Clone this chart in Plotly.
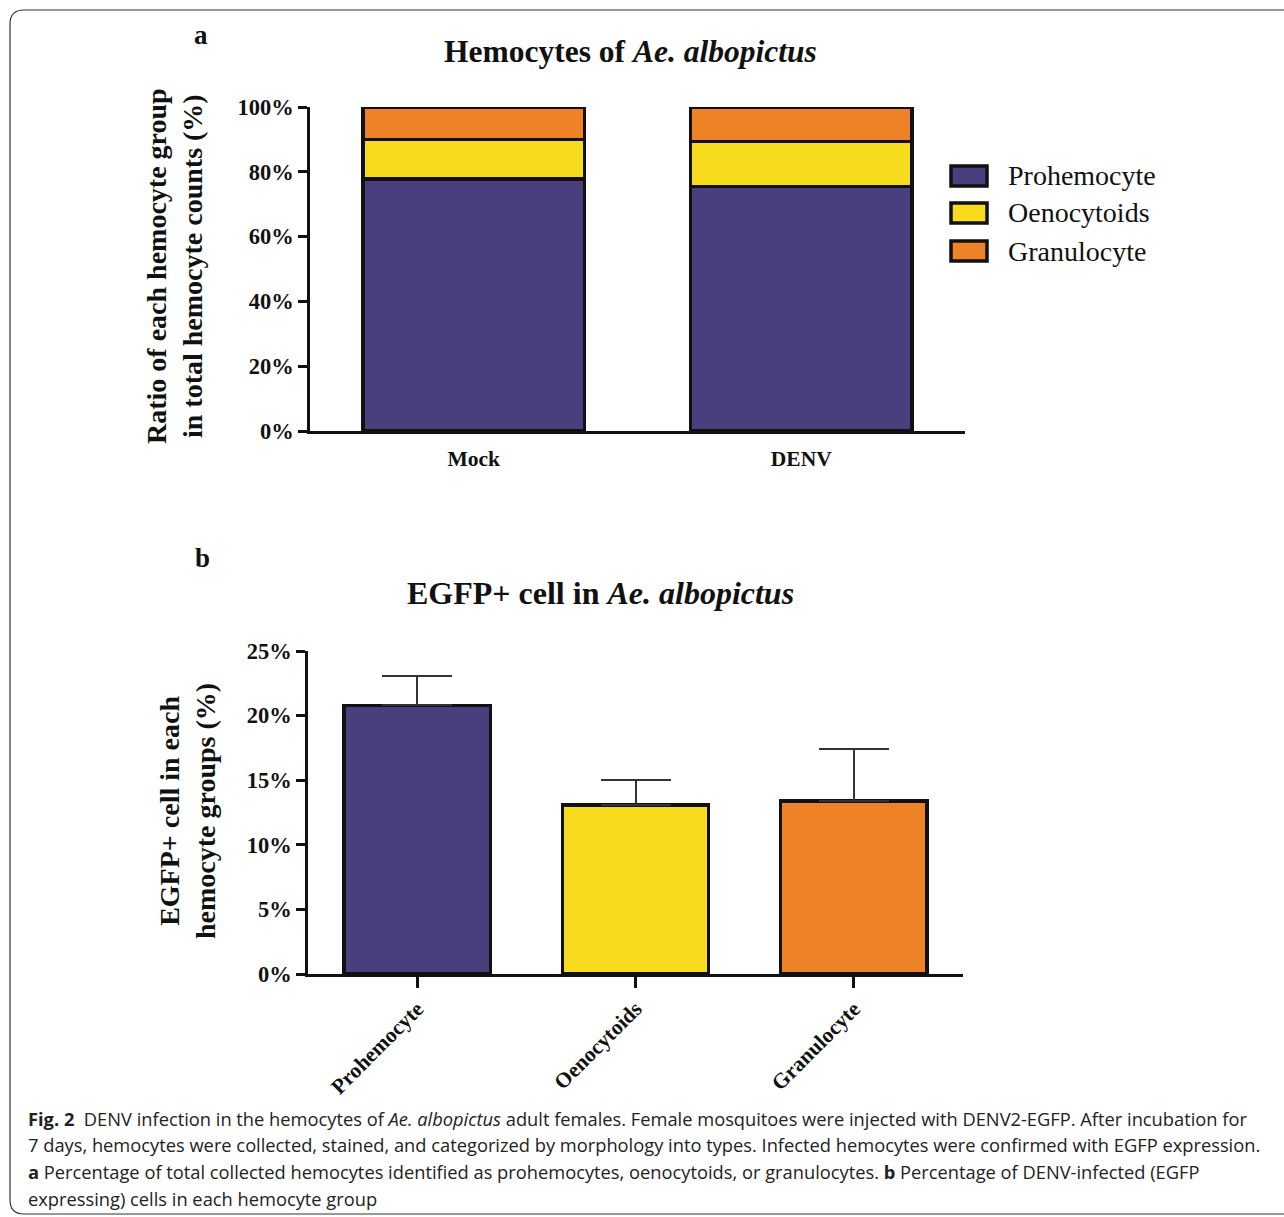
import plotly.graph_objects as go

# ---------------- data ----------------
groups_a = ["Mock", "DENV"]
series_a = ["Prohemocyte", "Oenocytoids", "Granulocyte"]
prohemocyte_a = [77.8, 75.4]
oenocytoids_a = [12.2, 13.9]
granulocyte_a = [10.0, 10.7]
values_a = [prohemocyte_a, oenocytoids_a, granulocyte_a]

cells_b = ["Prohemocyte", "Oenocytoids", "Granulocyte"]
egfp_b = [20.8, 13.1, 13.4]
err_b = [2.3, 1.9, 4.0]

ticks_a = [0, 20, 40, 60, 80, 100]
ticklabels_a = ["0%", "20%", "40%", "60%", "80%", "100%"]
ticks_b = [0, 5, 10, 15, 20, 25]
ticklabels_b = ["0%", "5%", "10%", "15%", "20%", "25%"]

colors = ["#4a3e7d", "#f7dc1e", "#ed8226"]

W, H = 1284, 1217
SERIF = "Liberation Serif"
SANS = "Open Sans"
INK = "#111111"


def px(x):
    return x / W


def py(y):
    return 1 - y / H


fig = go.Figure()

# ---- panel a: stacked bars ----
for name, vals, col in zip(series_a, values_a, colors):
    fig.add_trace(go.Bar(
        x=groups_a, y=vals, name=name, width=0.675,
        marker=dict(color=col, line=dict(color=INK, width=3.5)),
        xaxis="x", yaxis="y", showlegend=False,
    ))

# ---- panel b: bars with error bars ----
fig.add_trace(go.Bar(
    x=cells_b, y=egfp_b, width=0.67,
    marker=dict(color=colors, line=dict(color=INK, width=3.5)),
    error_y=dict(type="data", array=err_b, arrayminus=[0] * len(err_b),
                 symmetric=False, color="#333333", thickness=2, width=35),
    xaxis="x2", yaxis="y2", showlegend=False,
))

axis_common = dict(showline=True, linecolor=INK, linewidth=2.5,
                   showgrid=False, zeroline=False, mirror=False, automargin=False)
tickfont = dict(family=SERIF, size=22.5, color=INK, weight="bold")
xtickfont = dict(family=SERIF, size=21.5, color=INK, weight="bold")

fig.update_layout(
    width=W, height=H,
    margin=dict(l=0, r=0, t=0, b=0, pad=0),
    paper_bgcolor="white", plot_bgcolor="white",
    barmode="stack",
    xaxis=dict(domain=[px(310), px(965)], anchor="y", range=[-0.5, 1.5],
               ticks="", ticklabelstandoff=6, tickfont=xtickfont, **axis_common),
    yaxis=dict(domain=[py(431), py(107)], anchor="x", range=[0, 100],
               tickmode="array", tickvals=ticks_a, ticktext=ticklabels_a,
               ticks="outside", ticklen=9, tickwidth=2.5, tickcolor=INK,
               tickfont=tickfont, **axis_common),
    xaxis2=dict(domain=[px(308), px(963)], anchor="y2", range=[-0.5, 2.5],
                ticks="outside", ticklen=11, tickwidth=2.5, tickcolor=INK,
                tickangle=-45, tickfont=xtickfont, **axis_common),
    yaxis2=dict(domain=[py(974), py(651)], anchor="x2", range=[0, 25],
                tickmode="array", tickvals=ticks_b, ticktext=ticklabels_b,
                ticks="outside", ticklen=9, tickwidth=2.5, tickcolor=INK,
                tickfont=tickfont, **axis_common),
)


def note(text, x, y, size, family=SERIF, angle=0, xanchor="center", color=INK):
    return dict(text=text, x=px(x), y=py(y), xref="paper", yref="paper",
                xanchor=xanchor, yanchor="middle", showarrow=False,
                textangle=angle, font=dict(family=family, size=size, color=color))


ann = []
ann.append(note("<b>a</b>", 201, 35, 27))
ann.append(note("<b>b</b>", 202, 558, 27))
ann.append(note("<b>Hemocytes of <i>Ae. albopictus</i></b>", 630, 52, 31.5))
ann.append(note("<b>EGFP+ cell in <i>Ae. albopictus</i></b>", 600, 593, 32))
ann.append(note("<b>Ratio of each hemocyte group<br>in total hemocyte counts (%)</b>",
                174, 266, 28, angle=-90))
ann.append(note("<b>EGFP+ cell in each<br>hemocyte groups (%)</b>",
                187, 811, 28, angle=-90))

# manual legend for panel a
shapes = []
leg_y = [176, 213, 251]
for name, col, yy in zip(series_a, colors, leg_y):
    shapes.append(dict(type="rect", xref="paper", yref="paper",
                       x0=px(951), x1=px(987), y0=py(yy - 10), y1=py(yy + 10),
                       fillcolor=col, line=dict(color=INK, width=3.5)))
    ann.append(note(name, 1006, yy, 28, xanchor="left"))

# caption
caption = [
    "<b>Fig. 2</b>  DENV infection in the hemocytes of <i>Ae. albopictus</i> adult females. Female mosquitoes were injected with DENV2-EGFP. After incubation for",
    "7 days, hemocytes were collected, stained, and categorized by morphology into types. Infected hemocytes were confirmed with EGFP expression.",
    "<b>a</b> Percentage of total collected hemocytes identified as prohemocytes, oenocytoids, or granulocytes. <b>b</b> Percentage of DENV-infected (EGFP",
    "expressing) cells in each hemocyte group",
]
cap_y = [1118, 1144, 1171, 1198]
for line, yy in zip(caption, cap_y):
    ann.append(note(line, 26, yy, 18.3, family=SANS, xanchor="left", color="#222222"))

# rounded frame
r = 14
x0, y0, x1, y1 = 10, 10, 1300, 1214
path = (f"M {px(x0)},{py(y0 + r)} Q {px(x0)},{py(y0)} {px(x0 + r)},{py(y0)} "
        f"L {px(x1)},{py(y0)} M {px(x0)},{py(y0 + r)} L {px(x0)},{py(y1 - r)} "
        f"Q {px(x0)},{py(y1)} {px(x0 + r)},{py(y1)} L {px(x1)},{py(y1)}")
shapes.append(dict(type="path", xref="paper", yref="paper", path=path,
                   line=dict(color="#333333", width=1.2)))

fig.update_layout(annotations=ann, shapes=shapes)

fig.write_html("out.html", config={"displayModeBar": False})

# remove default page margins so the figure sits at the window origin
with open("out.html", "r", encoding="utf-8") as f:
    html = f.read()
html = html.replace("<head>", "<head><style>html,body{margin:0;padding:0;overflow:hidden;}</style>", 1)
with open("out.html", "w", encoding="utf-8") as f:
    f.write(html)
